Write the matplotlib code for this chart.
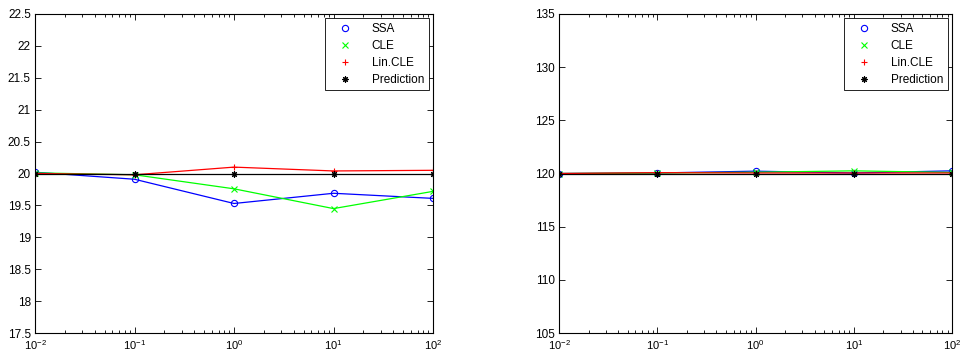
import numpy as np
import matplotlib.pyplot as plt
from matplotlib.lines import Line2D
from matplotlib.ticker import LogLocator, FixedLocator

plt.rcParams['font.family'] = ['Liberation Sans', 'DejaVu Sans']
plt.rcParams['font.size'] = 8
plt.rcParams['mathtext.default'] = 'regular'

x = [0.01, 0.1, 1, 10, 100]

# left panel
ssa_a = [20.02, 19.91, 19.53, 19.69, 19.61]
cle_a = [20.01, 19.98, 19.76, 19.45, 19.72]
lin_a = [20.00, 19.98, 20.10, 20.04, 20.05]
pred_a = [20, 20, 20, 20, 20]

# right panel
ssa_b = [120.0, 120.05, 120.22, 120.05, 120.25]
cle_b = [120.0, 120.05, 120.12, 120.25, 120.10]
lin_b = [120.0, 120.08, 120.05, 120.05, 120.05]
pred_b = [120, 120, 120, 120, 120]

labels = ['SSA', 'CLE', 'Lin.CLE', 'Prediction']
colors = ['#0000ff', '#00ff00', '#ff0000', '#000000']
markers = ['o', 'x', '+', (8, 2, 0)]
sizes = [4.5, 4, 5, 4.5]

fig = plt.figure(figsize=(9.63, 3.54), dpi=100)
ax1 = fig.add_axes([35/963, 21/354, 398/963, 319/354])
ax2 = fig.add_axes([559/963, 21/354, 393/963, 319/354])


def panel(ax, series, ylim, yticks, ylabels):
    for ys, c, m, s in zip(series, colors, markers, sizes):
        ax.plot(x, ys, color=c, lw=0.9, marker=m, ms=s, mfc='none', mew=0.8)
    ax.set_xscale('log')
    ax.set_xlim(0.01, 100)
    ax.set_ylim(*ylim)
    ax.set_yticks(yticks)
    ax.set_yticklabels(ylabels)
    ax.xaxis.set_major_locator(FixedLocator([0.01, 0.1, 1, 10, 100]))
    ax.xaxis.set_minor_locator(LogLocator(base=10, subs=np.arange(2, 10)))
    ax.set_xticklabels(['$10^{-2}$', '$10^{-1}$', '$10^{0}$', '$10^{1}$', '$10^{2}$'])
    ax.tick_params(which='both', direction='in', top=True, right=True, labelsize=8.5, pad=3)
    ax.tick_params(axis='x', pad=4, labelsize=8)
    ax.tick_params(which='major', length=4, width=0.6)
    ax.tick_params(which='minor', length=2, width=0.6)
    for sp in ax.spines.values():
        sp.set_linewidth(0.8)
    handles = [Line2D([], [], color=c, marker=m, ls='none', ms=s, mfc='none', mew=0.8)
               for c, m, s in zip(colors, markers, sizes)]
    leg = ax.legend(handles, labels, loc='upper right', fontsize=8.5, frameon=True,
                    fancybox=False, edgecolor='black', framealpha=1,
                    borderaxespad=0.35, handletextpad=1.0, labelspacing=0.42,
                    borderpad=0.4, handlelength=2.6)
    leg.get_frame().set_linewidth(0.6)


panel(ax1, [ssa_a, cle_a, lin_a, pred_a], (17.5, 22.5),
      np.arange(17.5, 22.51, 0.5),
      ['17.5', '18', '18.5', '19', '19.5', '20', '20.5', '21', '21.5', '22', '22.5'])
panel(ax2, [ssa_b, cle_b, lin_b, pred_b], (105, 135),
      np.arange(105, 136, 5),
      ['105', '110', '115', '120', '125', '130', '135'])

fig.savefig('out.png', dpi=100)
